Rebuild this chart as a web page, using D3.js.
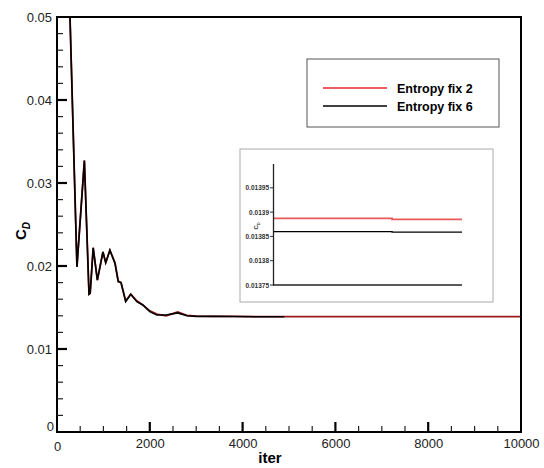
<!DOCTYPE html>
<html>
<head>
<meta charset="utf-8">
<script src="https://cdn.jsdelivr.net/npm/d3@7"></script>
<style>
  body { margin: 0; background: #fff; }
  text { font-family: "Liberation Sans", Arial, sans-serif; }
</style>
</head>
<body>
<svg id="chart" width="544" height="468"></svg>
<script>
// main convergence history
const iterFix6 = [270, 430, 590, 690, 715, 780, 870, 990, 1050, 1140, 1250, 1320, 1380, 1480, 1590, 1720, 1850, 2000, 2150, 2350, 2600, 2800, 3000, 3400, 3800, 4300, 4900];
const cdFix6 = [0.052, 0.0199, 0.0327, 0.0166, 0.0167, 0.0222, 0.0183, 0.0217, 0.0204, 0.0219, 0.0203, 0.0181, 0.0180, 0.0157, 0.0166, 0.0157, 0.0153, 0.0145, 0.0141, 0.0141, 0.01435, 0.0140, 0.01393, 0.01395, 0.01392, 0.01389, 0.01389];
const iterFix2 = [270, 430, 590, 690, 715, 780, 870, 990, 1050, 1140, 1250, 1320, 1380, 1480, 1590, 1720, 1850, 2000, 2150, 2350, 2600, 2800, 3000, 3400, 3800, 4300, 4900, 10000];
const cdFix2 = [0.052, 0.0199, 0.0327, 0.0166, 0.0167, 0.0222, 0.0183, 0.0217, 0.0204, 0.0219, 0.0204, 0.0182, 0.0180, 0.0158, 0.0166, 0.0158, 0.0153, 0.0146, 0.0142, 0.0140, 0.01445, 0.01405, 0.01395, 0.01393, 0.01394, 0.01390, 0.01389, 0.01389];

const xTicks = [0, 2000, 4000, 6000, 8000, 10000];
const yTicks = [0, 0.01, 0.02, 0.03, 0.04, 0.05];

// zoomed-in inset values
const insetIter = [0, 6300, 6300, 10000];
const insetFix2 = [0.013887, 0.013887, 0.013885, 0.013885];
const insetFix6 = [0.01386, 0.01386, 0.013859, 0.013859];
const insetTicks = [0.01375, 0.0138, 0.01385, 0.0139, 0.01395];

const colors = { fix2: "#e8262a", fix2Main: "#9a1c1c", fix2Inset: "#e85a5a", fix6: "#000" };

const svg = d3.select("#chart");

const x = d3.scaleLinear().domain([0, 10000]).range([57, 521]);
const y = d3.scaleLinear().domain([0, 0.05]).range([432, 17]);

svg.append("clipPath").attr("id", "plotClip")
  .append("rect").attr("x", 57).attr("y", 17).attr("width", 464).attr("height", 415);

const line = d3.line().x(d => x(d[0])).y(d => y(d[1]));

const plot = svg.append("g").attr("clip-path", "url(#plotClip)");
plot.append("path")
  .datum(d3.zip(iterFix2, cdFix2))
  .attr("d", line)
  .attr("fill", "none")
  .attr("stroke", colors.fix2Main)
  .attr("stroke-width", 1.8);
plot.append("path")
  .datum(d3.zip(iterFix6, cdFix6))
  .attr("d", line)
  .attr("fill", "none")
  .attr("stroke", colors.fix6)
  .attr("stroke-width", 1.6);

// tick labels via d3 axes
const xAxis = d3.axisBottom(x).tickValues(xTicks).tickFormat(d3.format("d")).tickSize(0).tickPadding(7);
const yAxis = d3.axisLeft(y).tickValues(yTicks).tickFormat(d => d === 0 ? "0" : d3.format(".2f")(d)).tickSize(0).tickPadding(5);

const gx = svg.append("g").attr("transform", "translate(0,432)").call(xAxis);
const gy = svg.append("g").attr("transform", "translate(57,0)").call(yAxis);
[gx, gy].forEach(g => {
  g.select(".domain").remove();
  g.selectAll("text").attr("font-size", 13).attr("fill", "#222")
    .style("font-family", "'Liberation Sans', Arial, sans-serif");
});
gy.selectAll(".tick").filter(d => d === 0).select("text").attr("dy", "-0.1em").attr("x", -3);
gx.selectAll(".tick").filter(d => d === 0).select("text").attr("dy", "0.9em");

// frame
svg.append("rect")
  .attr("x", 57).attr("y", 17).attr("width", 464).attr("height", 415)
  .attr("fill", "none").attr("stroke", "#000").attr("stroke-width", 2);

// axis titles
svg.append("text").attr("x", 270).attr("y", 463)
  .attr("text-anchor", "middle").attr("font-size", 15).attr("font-weight", "bold").text("iter");
const yt = svg.append("text")
  .attr("transform", "translate(26,231) rotate(-90)")
  .attr("text-anchor", "middle").attr("font-size", 15).attr("font-weight", "bold");
yt.append("tspan").text("C");
yt.append("tspan").attr("font-size", 10).attr("font-style", "italic").attr("dy", 4).text("D");

// legend
const legend = svg.append("g");
legend.append("rect").attr("x", 307).attr("y", 59).attr("width", 192).attr("height", 68)
  .attr("fill", "#fff").attr("stroke", "#555").attr("stroke-width", 1);
const legendItems = [["Entropy fix 2", colors.fix2], ["Entropy fix 6", colors.fix6]];
legendItems.forEach((item, i) => {
  const ly = 88 + i * 18;
  legend.append("line").attr("x1", 323).attr("x2", 387).attr("y1", ly).attr("y2", ly)
    .attr("stroke", item[1]).attr("stroke-width", 1.5);
  legend.append("text").attr("x", 397).attr("y", ly + 4.5)
    .attr("font-size", 12.5).attr("font-weight", "bold").text(item[0]);
});

// inset
const inset = svg.append("g");
inset.append("rect").attr("x", 240).attr("y", 149).attr("width", 253).attr("height", 153)
  .attr("fill", "#fff").attr("stroke", "#aaa").attr("stroke-width", 1);

const ix = d3.scaleLinear().domain([0, 10000]).range([273, 462]);
const iy = d3.scaleLinear().domain([0.01375, 0.014]).range([285, 163.5]);
const iline = d3.line().x(d => ix(d[0])).y(d => iy(d[1]));

inset.append("path").datum(d3.zip(insetIter, insetFix2)).attr("d", iline)
  .attr("fill", "none").attr("stroke", colors.fix2Inset).attr("stroke-width", 1.8);
inset.append("path").datum(d3.zip(insetIter, insetFix6)).attr("d", iline)
  .attr("fill", "none").attr("stroke", colors.fix6).attr("stroke-width", 1.3);

const iyAxis = d3.axisLeft(iy).tickValues(insetTicks).tickFormat(d => String(+d.toFixed(5)))
  .tickSize(0).tickPadding(4);
const giy = inset.append("g").attr("transform", "translate(273,0)").call(iyAxis);
giy.select(".domain").attr("stroke", "#222").attr("stroke-width", 1.3);
giy.selectAll("text").attr("font-size", 6.5).attr("font-weight", "bold").attr("fill", "#333");
inset.selectAll("rect.itick").data(insetTicks).join("rect").attr("class", "itick")
  .attr("x", 270).attr("y", d => iy(d) - 0.5).attr("width", 3).attr("height", 1).attr("fill", "#333");
inset.append("line").attr("x1", 273).attr("x2", 462).attr("y1", iy(0.01375)).attr("y2", iy(0.01375))
  .attr("stroke", "#222").attr("stroke-width", 1.3);
inset.append("text").attr("transform", "translate(258,226) rotate(-90)")
  .attr("text-anchor", "middle").attr("font-size", 6).attr("font-weight", "bold").attr("fill", "#333")
  .call(t => { t.append("tspan").text("C"); t.append("tspan").attr("font-size", 4).attr("dy", 1.5).text("D"); });

// main-axis ticks (inward): minor every 500 / 0.002, major at labelled values
const xMinor = d3.range(500, 10000, 500).filter(v => v % 2000 !== 0);
const yMinor = d3.range(1, 25).map(i => i * 0.002).filter((v, i) => (i + 1) % 5 !== 0);

const ticksG = svg.append("g");
ticksG.selectAll("line.xmn").data(xMinor).join("line").attr("class", "xmn")
  .attr("x1", d => x(d)).attr("x2", d => x(d)).attr("y1", 432).attr("y2", 426)
  .attr("stroke", "#222").attr("stroke-width", 1.2);
ticksG.selectAll("line.ymn").data(yMinor).join("line").attr("class", "ymn")
  .attr("x1", 57).attr("x2", 63).attr("y1", d => y(d)).attr("y2", d => y(d))
  .attr("stroke", "#222").attr("stroke-width", 1.2);
ticksG.selectAll("line.xmj").data(xTicks.slice(1, -1)).join("line").attr("class", "xmj")
  .attr("x1", d => x(d)).attr("x2", d => x(d)).attr("y1", 432).attr("y2", 422)
  .attr("stroke", "#000").attr("stroke-width", 2.2);
ticksG.selectAll("line.ymj").data(yTicks.slice(1, -1)).join("line").attr("class", "ymj")
  .attr("x1", 57).attr("x2", 67).attr("y1", d => y(d)).attr("y2", d => y(d))
  .attr("stroke", "#000").attr("stroke-width", 2.2);
</script>
</body>
</html>
